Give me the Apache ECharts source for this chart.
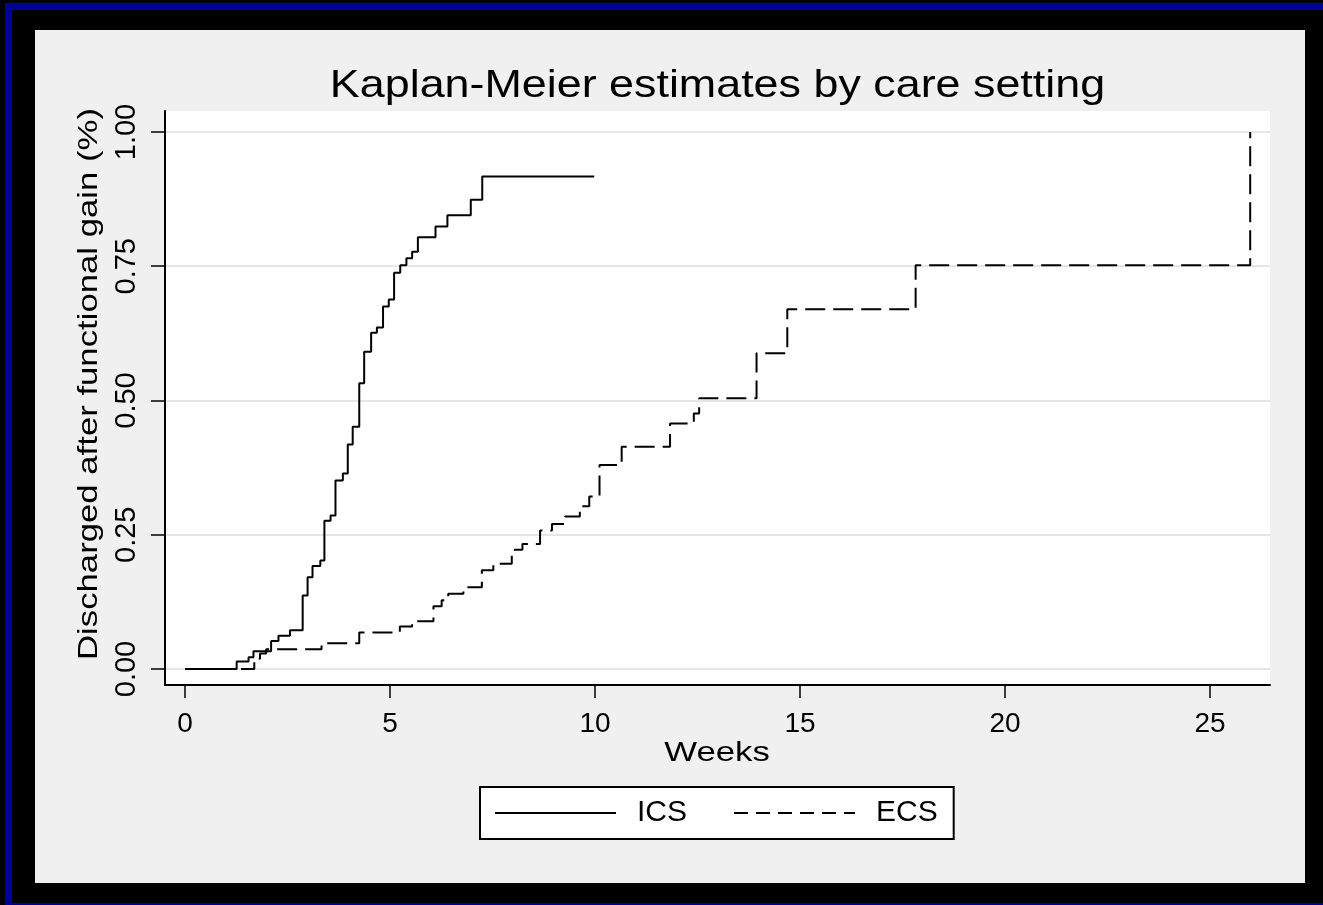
<!DOCTYPE html>
<html><head><meta charset="utf-8">
<script src="https://cdn.jsdelivr.net/npm/echarts@6/dist/echarts.min.js"></script>
<style>html,body{margin:0;padding:0;background:#000;overflow:hidden;}#c{width:1323px;height:905px;}</style>
</head><body><div id="c"></div>
<script>
const titleText = 'Kaplan-Meier estimates by care setting';
const xName = 'Weeks';
const yName = 'Discharged after functional gain (%)';
const seriesNames = ['ICS', 'ECS'];
const icsWeeks  = [0, 1.26, 1.55, 1.67, 2.10, 2.28, 2.56, 2.87, 2.99, 3.11, 3.30, 3.40, 3.55, 3.67, 3.85, 3.97, 4.09, 4.25, 4.37, 4.54, 4.68, 4.83, 4.97, 5.10, 5.25, 5.40, 5.54, 5.68, 6.11, 6.40, 6.97, 7.25, 9.98];
const icsValues = [0, 0.014, 0.022, 0.033, 0.052, 0.062, 0.072, 0.137, 0.171, 0.192, 0.202, 0.276, 0.286, 0.351, 0.364, 0.418, 0.451, 0.532, 0.591, 0.626, 0.636, 0.675, 0.688, 0.738, 0.752, 0.765, 0.777, 0.804, 0.824, 0.845, 0.874, 0.917, 0.917];
const ecsWeeks  = [0, 1.69, 1.83, 1.98, 3.33, 4.25, 5.24, 5.54, 6.06, 6.26, 6.42, 6.79, 7.24, 7.52, 7.97, 8.23, 8.66, 8.95, 9.27, 9.63, 9.86, 10.11, 10.65, 11.83, 12.41, 12.54, 13.94, 14.69, 17.82, 25.98];
const ecsValues = [0, 0.019, 0.029, 0.037, 0.048, 0.068, 0.079, 0.089, 0.117, 0.128, 0.140, 0.152, 0.184, 0.196, 0.222, 0.233, 0.258, 0.270, 0.284, 0.303, 0.321, 0.380, 0.414, 0.457, 0.476, 0.504, 0.588, 0.670, 0.752, 1.0];
const xTicks = [0, 5, 10, 15, 20, 25];
const yTicks = [0, 0.25, 0.5, 0.75, 1.0];

const FF = '"Liberation Sans", Arial, Helvetica, sans-serif';
const chart = echarts.init(document.getElementById('c'), null, {renderer: 'canvas'});
const option = {
  animation: false,
  backgroundColor: '#000',
  graphic: [
    {type: 'rect', z: -20, shape: {x: 5, y: 3, width: 1318, height: 7}, style: {fill: '#000099'}},
    {type: 'rect', z: -20, shape: {x: 5, y: 3, width: 7, height: 902}, style: {fill: '#000099'}},
    {type: 'rect', z: -20, shape: {x: 5, y: 903, width: 1318, height: 2}, style: {fill: '#000099'}},
    {type: 'rect', z: -10, shape: {x: 35, y: 30, width: 1270, height: 853}, style: {fill: '#f0f0f0'}},
    {type: 'text', z: 10, x: 717.5, y: 86, scaleX: 1.15, style: {text: titleText, fontSize: 39, fontFamily: FF, fill: '#000', align: 'center', verticalAlign: 'middle'}},
    {type: 'text', z: 10, x: 717, y: 753, scaleX: 1.24, style: {text: xName, fontSize: 28, fontFamily: FF, fill: '#000', align: 'center', verticalAlign: 'middle'}},
    {type: 'text', z: 10, x: 89, y: 384, rotation: Math.PI / 2, scaleX: 1.24, style: {text: yName, fontSize: 28, fontFamily: FF, fill: '#000', align: 'center', verticalAlign: 'middle'}}
  ],
  grid: {left: 165, right: 53, top: 111, bottom: 220, show: true, backgroundColor: '#fff', borderWidth: 0, containLabel: false},
  legend: {
    left: 480, top: 787, orient: 'horizontal',
    padding: [11, 16, 11, 14], itemGap: 46, itemWidth: 121, itemHeight: 30,
    backgroundColor: '#fff', borderColor: '#000', borderWidth: 2, borderRadius: 0,
    itemStyle: {opacity: 0},
    textStyle: {fontSize: 30, color: '#000', fontFamily: FF, padding: [0, 0, 0, 16]},
    data: [{name: seriesNames[0]}, {name: seriesNames[1], lineStyle: {type: [14, 8]}}]
  },
  xAxis: {
    type: 'value', min: -0.4878, max: 26.463,
    axisLine: {show: true, onZero: false, lineStyle: {color: '#000', width: 2}},
    axisTick: {show: true, length: 13, customValues: xTicks, lineStyle: {color: '#000', width: 1.5}},
    axisLabel: {customValues: xTicks, margin: 25, fontSize: 28, color: '#000', fontFamily: FF},
    splitLine: {show: false}
  },
  yAxis: {
    type: 'value', min: -0.0298, max: 1.0391,
    axisLine: {show: true, onZero: false, lineStyle: {color: '#000', width: 2}},
    axisTick: {show: true, length: 14, customValues: yTicks, lineStyle: {color: '#000', width: 1.5}},
    axisLabel: {customValues: yTicks, rotate: 90, margin: 24, fontSize: 29, color: '#000', fontFamily: FF, formatter: v => v.toFixed(2)},
    splitLine: {show: true, lineStyle: {color: '#e6e6e6', width: 2}}
  },
  series: [
    {name: seriesNames[0], type: 'line', step: 'end', symbol: 'none', showSymbol: false,
     data: icsWeeks.map((w, i) => [w, icsValues[i]]),
     lineStyle: {color: '#000', width: 2}, itemStyle: {color: '#000'}},
    {name: seriesNames[1], type: 'line', step: 'end', symbol: 'none', showSymbol: false,
     data: ecsWeeks.map((w, i) => [w, ecsValues[i]]),
     lineStyle: {color: '#000', width: 2, type: [20, 8]}, itemStyle: {color: '#000'}}
  ]
};
chart.setOption(option);
</script></body></html>
